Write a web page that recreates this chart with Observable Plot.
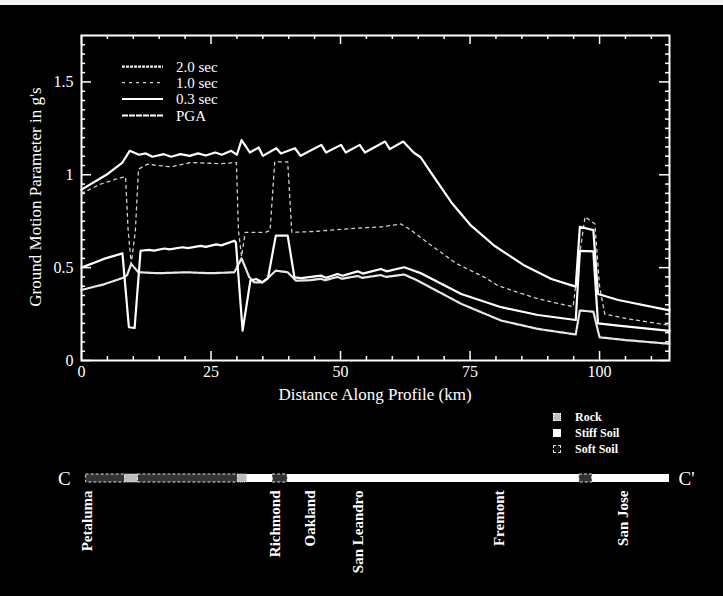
<!DOCTYPE html>
<html>
<head>
<meta charset="utf-8">
<script src="https://cdn.jsdelivr.net/npm/d3@7"></script>
<script src="https://cdn.jsdelivr.net/npm/@observablehq/plot@0.6"></script>
<style>
  html, body { margin: 0; padding: 0; background: #fff; }
  #wrap { position: relative; width: 723px; height: 596px; background: #000; overflow: hidden;
          font-family: "Liberation Serif", "Times New Roman", serif; color: #fff; }
  #topstrip { position: absolute; left: 0; top: 0; width: 723px; height: 5px; background: #f4f4f4; }
  .abs { position: absolute; }
  #ylab { left: -114px; top: 187px; width: 300px; height: 20px; line-height: 20px; text-align: center;
          transform: rotate(-90deg); font-size: 17px; }
  #xlab { left: 175px; top: 385px; width: 400px; height: 20px; line-height: 20px; text-align: center; font-size: 17px; }
  .soil { position: absolute; font-size: 12px; font-weight: bold; line-height: 14px; }
  .sw { position: absolute; width: 8px; height: 8px; }
</style>
</head>
<body>
<div id="wrap">
  <div id="p1" class="abs" style="left:0;top:0"></div>
  <div id="p2" class="abs" style="left:0;top:410px"></div>
  <div id="topstrip"></div>
  <div id="ylab" class="abs">Ground Motion Parameter in g's</div>
  <div id="xlab" class="abs">Distance Along Profile (km)</div>
  <svg id="leg" class="abs" style="left:0;top:0" width="300" height="140"></svg>
  <div id="soilleg"></div>
</div>
<script>
// ---------- DATA ----------
const seriesNames = ["2.0 sec", "1.0 sec", "0.3 sec", "PGA"];

// 0.3 sec (top curve)
const sa03_km = [0, 4.8, 7.9, 9.3, 11.1, 12.4, 13.7, 15.9, 17.3, 19.1, 20.9, 22.5, 24.0, 25.8, 27.1, 28.9, 30.0, 30.9, 32.5, 34.2, 35.0, 37.6, 38.5, 41.2, 42.3, 46.3, 47.2, 50.1, 51.0, 53.7, 54.7, 58.6, 59.5, 62.1, 64.1, 65.5, 67.2, 71.4, 75.2, 79.7, 85.5, 90.7, 95.4, 96.2, 98.8, 99.7, 103.6, 113.5];
const sa03_g  = [0.92, 1.0, 1.066, 1.129, 1.108, 1.115, 1.097, 1.111, 1.097, 1.111, 1.102, 1.115, 1.104, 1.12, 1.108, 1.129, 1.108, 1.187, 1.12, 1.147, 1.102, 1.143, 1.115, 1.143, 1.102, 1.161, 1.12, 1.161, 1.12, 1.161, 1.12, 1.179, 1.138, 1.179, 1.12, 1.093, 1.022, 0.851, 0.726, 0.618, 0.511, 0.439, 0.398, 0.72, 0.702, 0.358, 0.326, 0.27];

// 1.0 sec (dashed)
const sa10_km = [0, 3.7, 6.6, 8.5, 9.0, 9.6, 10.4, 11.0, 12.7, 17.2, 21.1, 26.9, 29.9, 30.3, 30.9, 31.6, 35.5, 36.4, 37.3, 39.8, 40.6, 45, 53.3, 58, 61.7, 63.6, 67, 72.3, 77.8, 80.4, 87.5, 92.3, 94.9, 95.8, 97.2, 99.1, 100.0, 101, 105.5, 113.5];
const sa10_g  = [0.90, 0.95, 0.976, 0.99, 0.70, 0.52, 0.70, 1.03, 1.057, 1.043, 1.066, 1.06, 1.066, 0.70, 0.56, 0.69, 0.69, 0.70, 1.07, 1.07, 0.69, 0.695, 0.713, 0.72, 0.735, 0.702, 0.63, 0.523, 0.448, 0.403, 0.337, 0.305, 0.29, 0.5, 0.774, 0.735, 0.40, 0.25, 0.224, 0.19];

// PGA (middle solid)
const pga_km = [0, 4.3, 7.9, 9.15, 10.25, 11.4, 13, 14, 16, 17, 19.5, 20.5, 23, 24, 26, 27, 29.5, 29.8, 31.1, 32.6, 33.7, 34.9, 36.0, 37.5, 39.8, 41.1, 42.4, 46.2, 47.2, 49.4, 50.4, 53.3, 54.3, 57.8, 58.9, 62.3, 63.5, 65.6, 73.3, 81, 88.1, 95.4, 96.2, 98.8, 99.7, 103.6, 113.5];
const pga_g  = [0.50, 0.547, 0.577, 0.179, 0.175, 0.591, 0.596, 0.592, 0.603, 0.598, 0.61, 0.605, 0.617, 0.612, 0.625, 0.62, 0.645, 0.636, 0.161, 0.43, 0.439, 0.421, 0.444, 0.672, 0.672, 0.448, 0.444, 0.457, 0.446, 0.466, 0.456, 0.48, 0.468, 0.493, 0.48, 0.502, 0.49, 0.469, 0.358, 0.287, 0.245, 0.218, 0.59, 0.588, 0.2, 0.188, 0.16];

// 2.0 sec (bottom)
const sa20_km = [0, 4.3, 7.9, 8.8, 9.6, 11.0, 15, 20, 25, 29.5, 30.9, 32.4, 33.3, 34.9, 36.0, 37.5, 39.8, 41.4, 44, 46.2, 47, 49.4, 50.3, 53.3, 54.2, 57.8, 58.8, 62.3, 64.9, 73.3, 81, 88.1, 95.4, 96.2, 98.8, 100, 105, 113.5];
const sa20_g  = [0.38, 0.41, 0.444, 0.46, 0.52, 0.475, 0.47, 0.475, 0.47, 0.475, 0.55, 0.448, 0.421, 0.421, 0.444, 0.484, 0.475, 0.43, 0.432, 0.44, 0.432, 0.45, 0.44, 0.455, 0.445, 0.46, 0.45, 0.463, 0.43, 0.305, 0.215, 0.17, 0.14, 0.269, 0.263, 0.125, 0.11, 0.09];

// axis ticks
const xTickValues = [0, 25, 50, 75, 100];
const xMinorValues = [5, 10, 15, 20, 30, 35, 40, 45, 55, 60, 65, 70, 80, 85, 90, 95, 105, 110];
const yTickValues = [0, 0.5, 1, 1.5];
const yTickLabels = ["0", "0.5", "1", "1.5"];
const yMinorValues = [0.05, 0.1, 0.15, 0.2, 0.25, 0.3, 0.35, 0.4, 0.45, 0.55, 0.6, 0.65, 0.7, 0.75, 0.8, 0.85, 0.9, 0.95,
                      1.05, 1.1, 1.15, 1.2, 1.25, 1.3, 1.35, 1.4, 1.45, 1.55, 1.6, 1.65, 1.7];

// soil profile
const soilStart = [0.9, 8.4, 10.9, 30.2, 31.9, 36.9, 39.8, 96.1, 98.6];
const soilEnd   = [8.4, 10.9, 30.2, 31.9, 36.9, 39.8, 96.1, 98.6, 113.5];
const soilType  = ["Soft", "Rock", "Soft", "Rock", "Stiff", "Soft", "Stiff", "Soft", "Stiff"];
const soilLegend = ["Rock", "Stiff Soil", "Soft Soil"];

// cities
const cityNames = ["Petaluma", "Richmond", "Oakland", "San Leandro", "Fremont", "San Jose"];
const cityKm    = [1.1, 37.3, 44.1, 53.5, 80.6, 104.5];
const endLabels = ["C", "C'"];
const endKm     = [-3.3, 116.8];

// ---------- BUILD ----------
const toRows = (kms, gs) => kms.map((k, i) => ({km: k, g: gs[i]}));
const sa03 = toRows(sa03_km, sa03_g);
const sa10 = toRows(sa10_km, sa10_g);
const pga = toRows(pga_km, pga_g);
const sa20 = toRows(sa20_km, sa20_g);

const W = 723;
const xDomain = [0, 113.5];
const common = {width: W, marginLeft: 81, marginRight: 54};
const H1 = 410, MT = 35, MB = 50;
const innerH = H1 - MT - MB;
const innerW = W - 81 - 54;
const tickStyle = {stroke: "#fff", strokeWidth: 1.5};

const p1 = Plot.plot({
  ...common,
  height: H1, marginTop: MT, marginBottom: MB,
  style: {background: "transparent", color: "#fff", fontFamily: "Liberation Serif, serif", fontSize: "16px"},
  x: {domain: xDomain},
  y: {domain: [0, 1.75]},
  marks: [
    // axis labels
    Plot.axisX({anchor: "bottom", ticks: xTickValues, tickSize: 0, tickPadding: 5, tickFormat: d => String(d), label: null}),
    Plot.axisY({anchor: "left", ticks: yTickValues, tickSize: 0, tickPadding: 8, tickFormat: (d, i) => yTickLabels[i], label: null}),
    // inward ticks (bottom / top)
    Plot.ruleX(xTickValues, {x: d => d, insetTop: innerH - 9, ...tickStyle}),
    Plot.ruleX(xMinorValues, {x: d => d, insetTop: innerH - 4, ...tickStyle}),
    Plot.ruleX(xTickValues, {x: d => d, insetBottom: innerH - 9, ...tickStyle}),
    Plot.ruleX(xMinorValues, {x: d => d, insetBottom: innerH - 4, ...tickStyle}),
    // inward ticks (left / right)
    Plot.ruleY(yTickValues, {y: d => d, insetRight: innerW - 10, ...tickStyle}),
    Plot.ruleY(yMinorValues, {y: d => d, insetRight: innerW - 4, ...tickStyle}),
    Plot.ruleY(yTickValues, {y: d => d, insetLeft: innerW - 10, ...tickStyle}),
    Plot.ruleY(yMinorValues, {y: d => d, insetLeft: innerW - 4, ...tickStyle}),
    Plot.frame({stroke: "#fff", strokeWidth: 2}),
    // curves
    Plot.line(sa10, {x: "km", y: "g", stroke: "#cfcfcf", strokeWidth: 1.3, strokeDasharray: "3,4"}),
    Plot.line(sa20, {x: "km", y: "g", stroke: "#e8e8e8", strokeWidth: 2.2, strokeDasharray: "3,1"}),
    Plot.line(pga, {x: "km", y: "g", stroke: "#fff", strokeWidth: 2.2}),
    Plot.line(sa03, {x: "km", y: "g", stroke: "#fff", strokeWidth: 2.2})
  ]
});
document.getElementById("p1").appendChild(p1);

const soilRows = soilStart.map((s, i) => ({x1: s, x2: soilEnd[i], type: soilType[i], row: "profile"}));
const cityRows = cityNames.map((n, i) => ({name: n, km: cityKm[i], row: "profile"}));
const endRows = endLabels.map((n, i) => ({name: n, km: endKm[i], row: "profile"}));

const p2 = Plot.plot({
  ...common,
  height: 186, marginTop: 0, marginBottom: 0,
  style: {background: "transparent", color: "#fff", fontFamily: "Liberation Serif, serif"},
  x: {domain: xDomain, axis: null},
  y: {type: "band", domain: ["profile"], range: [64, 72], padding: 0, axis: null},
  marks: [
    Plot.barX(soilRows.filter(d => d.type === "Soft"), {x1: "x1", x2: "x2", y: "row", fill: "#333", stroke: "#e0e0e0", strokeWidth: 1, strokeDasharray: "3,2"}),
    Plot.barX(soilRows.filter(d => d.type === "Rock"), {x1: "x1", x2: "x2", y: "row", fill: "#bdbdbd", stroke: "#eee", strokeWidth: 1, strokeDasharray: "1,1"}),
    Plot.barX(soilRows.filter(d => d.type === "Stiff"), {x1: "x1", x2: "x2", y: "row", fill: "#fff"}),
    Plot.text(cityRows, {x: "km", y: "row", text: "name", rotate: -90, textAnchor: "end", dy: 12, fill: "#fff", fontSize: 15, fontWeight: "bold"}),
    Plot.text(endRows, {x: "km", y: "row", text: "name", fill: "#fff", fontSize: 19})
  ]
});
document.getElementById("p2").appendChild(p2);

// in-plot legend (overlay drawn with d3)
const leg = d3.select("#leg");
const legY = [66.7, 82.7, 99, 115.5];
const legDash = ["3,1", "3,4", null, "6,1"];
const legStroke = ["#e8e8e8", "#cfcfcf", "#fff", "#fff"];
seriesNames.forEach((name, i) => {
  leg.append("line").attr("x1", 122).attr("x2", 163).attr("y1", legY[i]).attr("y2", legY[i])
    .attr("stroke", legStroke[i]).attr("stroke-width", i === 1 ? 1.3 : 2.2)
    .attr("stroke-dasharray", legDash[i]);
  leg.append("text").attr("x", 176).attr("y", legY[i] + 5).attr("fill", "#fff")
    .attr("font-family", "Liberation Serif, serif").attr("font-size", 15).text(name);
});

// soil legend
const sl = d3.select("#soilleg");
const slY = [413, 429, 445];
const slFill = ["#bdbdbd", "#fff", "#111"];
const slBorder = ["1px dotted #fff", "none", "1px dashed #ddd"];
soilLegend.forEach((name, i) => {
  sl.append("div").attr("class", "sw")
    .style("left", "553px").style("top", slY[i] + "px")
    .style("background", slFill[i]).style("border", slBorder[i]).style("box-sizing", "border-box");
  sl.append("div").attr("class", "soil")
    .style("left", "575px").style("top", (slY[i] - 3) + "px").text(name);
});
</script>
</body>
</html>
